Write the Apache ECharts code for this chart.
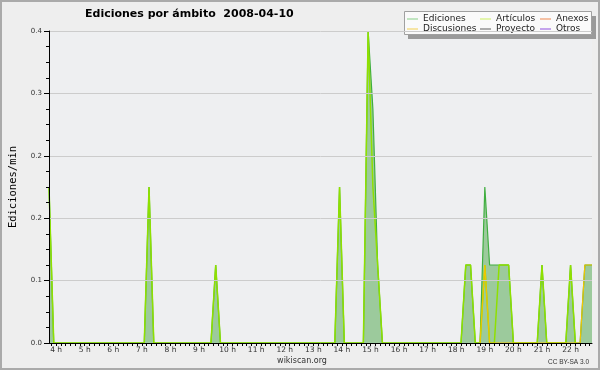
<!DOCTYPE html>
<html>
<head>
<meta charset="utf-8">
<script src="https://cdn.jsdelivr.net/npm/echarts@6/dist/echarts.min.js"></script>
<style>
html,body{margin:0;padding:0;background:#eeeeee;}
#c{width:600px;height:370px;}
</style>
</head>
<body>
<div id="c"></div>
<script>
// ---- data (times HH:MM, values in edits/min) ----
const edicionesTimes = ['03:45','03:55','07:05','07:15','07:25','09:25','09:35','09:45','13:45','13:55','14:05','14:45','14:55','15:05','15:15','15:25','18:10','18:20','18:30','18:40','18:50','19:00','19:10','19:20','19:30','19:40','19:50','20:00','20:50','21:00','21:10','21:50','22:00','22:10','22:20','22:30','22:45'];
const edicionesValues = [0.2,0,0,0.2,0,0,0.1,0,0,0.2,0,0,0.4,0.3,0.1,0,0,0.1,0.1,0,0,0.2,0.1,0.1,0.1,0.1,0.1,0,0,0.1,0,0,0.1,0,0,0.1,0.1];

const articulosTimes = ['03:45','03:55','07:05','07:15','07:25','09:25','09:35','09:45','13:45','13:55','14:05','14:45','14:55','15:05','15:15','15:25','18:10','18:20','18:30','18:40','18:50','19:00','19:10','19:20','19:30','19:40','19:50','20:00','20:50','21:00','21:10','21:50','22:00','22:10'];
const articulosValues = [0.2,0,0,0.2,0,0,0.1,0,0,0.2,0,0,0.4,0.2,0.1,0,0,0.1,0.1,0,0,0.1,0,0,0.1,0.1,0.1,0,0,0.1,0,0,0.1,0];

const discusionesTimes = ['18:50','19:00','19:10','22:20','22:30','22:45'];
const discusionesValues = [0,0.1,0,0,0.1,0.1];

const hourLabels = [4,5,6,7,8,9,10,11,12,13,14,15,16,17,18,19,20,21,22];

const xStart = '03:45', xEnd = '22:45';

function toMin(s){const p=s.split(':');return (+p[0])*60+(+p[1]);}
function pairs(ts,vs){return ts.map((t,i)=>[toMin(t),vs[i]]);}

const minX = toMin(xStart), maxX = toMin(xEnd);
const tickVals = [];
for (let m = Math.ceil(minX/10)*10; m <= maxX; m += 10) tickVals.push(m);
const labelVals = hourLabels.map(h=>h*60);

const FONT = 'DejaVu Sans';

const chart = echarts.init(document.getElementById('c'), null, {renderer:'canvas'});
chart.setOption({
  animation:false,
  backgroundColor:'#eeeeee',
  title:{
    text:'Ediciones por ámbito  2008-04-10',
    left:85, top:9, padding:0,
    textStyle:{fontFamily:FONT,fontSize:11,fontWeight:'bold',color:'#000'}
  },
  grid:{left:46,right:8,top:31,bottom:27,show:true,backgroundColor:'#eeeff1',borderWidth:0},
  legend:[
    {orient:'vertical',left:407,top:14,padding:0,itemGap:0,itemWidth:11,itemHeight:1,icon:'rect',selectedMode:false,
     textStyle:{fontFamily:FONT,fontSize:9,color:'#222',lineHeight:10},
     data:[{name:'Ediciones',itemStyle:{color:'#88d088'}},{name:'Discusiones',itemStyle:{color:'#f2d050'}}]},
    {orient:'vertical',left:480,top:14,padding:0,itemGap:0,itemWidth:11,itemHeight:1,icon:'rect',selectedMode:false,
     textStyle:{fontFamily:FONT,fontSize:9,color:'#222',lineHeight:10},
     data:[{name:'Artículos',itemStyle:{color:'#cdf060'}},{name:'Proyecto',itemStyle:{color:'#606060'}}]},
    {orient:'vertical',left:540,top:14,padding:0,itemGap:0,itemWidth:11,itemHeight:1,icon:'rect',selectedMode:false,
     textStyle:{fontFamily:FONT,fontSize:9,color:'#222',lineHeight:10},
     data:[{name:'Anexos',itemStyle:{color:'#f08850'}},{name:'Otros',itemStyle:{color:'#9050e0'}}]}
  ],
  graphic:[
    {type:'rect',z:100,silent:true,shape:{x:1,y:1,width:598,height:368},style:{fill:'none',stroke:'#aaaaaa',lineWidth:2}},
    {type:'rect',z:0,shape:{x:408,y:16,width:188,height:23},style:{fill:'#9a9a9a'}},
    {type:'rect',z:1,shape:{x:404.5,y:11.5,width:187,height:23},style:{fill:'#fafafa',stroke:'#a0a0a0',lineWidth:1}},
    {type:'text',z:5,x:302,y:361,style:{text:'wikiscan.org',fontFamily:FONT,fontSize:8,fill:'#333',align:'center',verticalAlign:'middle'}},
    {type:'text',z:5,x:589,y:362,style:{text:'CC BY-SA 3.0',fontFamily:'Liberation Sans',fontSize:6.5,fill:'#333',align:'right',verticalAlign:'middle'}}
  ],
  xAxis:{
    type:'value',min:minX,max:maxX,z:10,
    axisLine:{show:true,lineStyle:{color:'#000',width:1}},
    axisTick:{show:true,customValues:tickVals,length:3,lineStyle:{color:'#000'}},
    axisLabel:{customValues:labelVals,formatter:v=>(v/60)+' h',fontFamily:FONT,fontSize:7.5,color:'#333',margin:3},
    splitLine:{show:false}
  },
  yAxis:{
    type:'value',min:0,max:0.4,interval:0.08,z:10,
    name:'Ediciones/min',nameLocation:'middle',nameGap:30,
    nameTextStyle:{fontFamily:'DejaVu Sans Mono',fontSize:10.5,color:'#000'},
    axisLine:{show:true,lineStyle:{color:'#000',width:1}},
    axisTick:{show:true,length:5,lineStyle:{color:'#000'}},
    minorTick:{show:true,splitNumber:4,length:3,lineStyle:{color:'#000'}},
    axisLabel:{formatter:v=>v.toFixed(1),fontFamily:FONT,fontSize:7,color:'#333',margin:7},
    splitLine:{show:true,lineStyle:{color:'#cccccc',width:1}}
  },
  series:[
    {name:'Ediciones',type:'line',symbol:'none',z:2,data:pairs(edicionesTimes,edicionesValues),
     itemStyle:{color:'#3fae3f'},lineStyle:{color:'#3fae3f',width:1.2},areaStyle:{color:'#9cca9c',opacity:1}},
    {name:'Artículos',type:'line',symbol:'none',z:3,data:pairs(articulosTimes,articulosValues),
     itemStyle:{color:'#8fe000'},lineStyle:{color:'#8fe000',width:1.5}},
    {name:'Discusiones',type:'line',symbol:'none',z:4,data:pairs(discusionesTimes,discusionesValues),
     itemStyle:{color:'#f2c500'},lineStyle:{color:'#f2c500',width:1.2}},
    {name:'Anexos',type:'line',symbol:'none',data:[],itemStyle:{color:'#f08850'}},
    {name:'Proyecto',type:'line',symbol:'none',data:[],itemStyle:{color:'#606060'}},
    {name:'Otros',type:'line',symbol:'none',data:[],itemStyle:{color:'#9050e0'}}
  ]
});
</script>
</body>
</html>
